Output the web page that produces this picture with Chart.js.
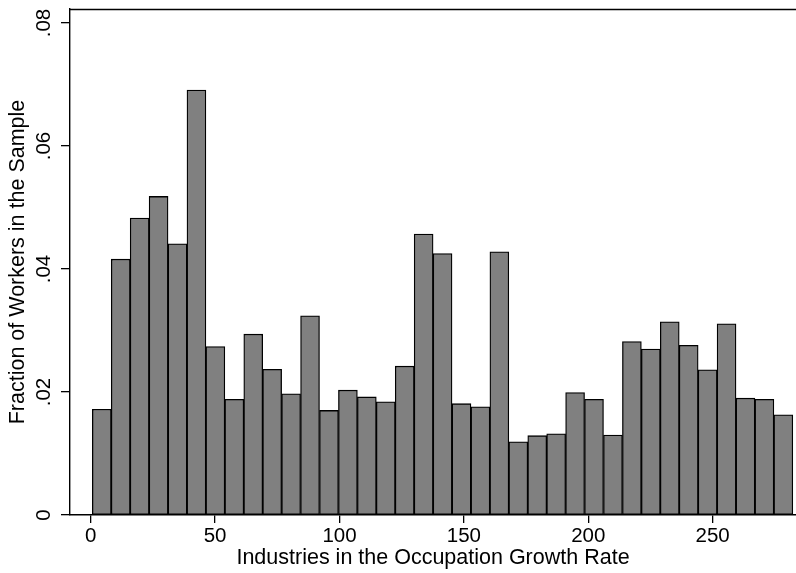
<!DOCTYPE html>
<html><head><meta charset="utf-8">
<script src="https://cdn.jsdelivr.net/npm/chart.js@4/dist/chart.umd.min.js"></script>
<style>html,body{margin:0;padding:0;background:#fff;}#wrap{width:796px;height:573px;position:relative;}</style>
</head><body><div id="wrap"><canvas id="c" width="796" height="573" style="width:796px;height:573px"></canvas></div>
<script>
// Histogram bins (industry rank in occupation growth rate)
const binStart = 0.65;
const binWidth = 7.61;
const fractions = [0.0172,0.0416,0.0483,0.0518,0.0441,0.0691,0.0274,0.0188,0.0294,0.0237,0.0197,0.0324,0.0170,0.0203,0.0192,0.0184,0.0242,0.0457,0.0425,0.0181,0.0176,0.0428,0.0119,0.0129,0.0132,0.0199,0.0188,0.0130,0.0282,0.0270,0.0314,0.0276,0.0236,0.0311,0.0190,0.0188,0.0163];
const xTicks = [0,50,100,150,200,250];
const yTicks = [0,0.02,0.04,0.06,0.08];
const yTickLabels = ['0','.02','.04','.06','.08'];
const xTitle = 'Industries in the Occupation Growth Rate';
const yTitle = 'Fraction of Workers in the Sample';

const points = fractions.map((v,i)=>({x: binStart + (i+0.5)*binWidth, y: v}));

const frame = {
  id:'frame',
  afterDraw(chart){
    const {ctx, chartArea:a} = chart;
    ctx.save();
    ctx.strokeStyle='#000'; ctx.lineWidth=1.4;
    ctx.beginPath(); ctx.moveTo(a.left, a.top+0.5); ctx.lineTo(a.right, a.top+0.5); ctx.stroke();
    ctx.restore();
  }
};

const FONT = "'Liberation Sans', Arial, sans-serif";

new Chart(document.getElementById('c'), {
  type:'bar',
  data:{ datasets:[{
    data: points,
    backgroundColor:'#808080',
    borderColor:'#000',
    borderWidth:1.3,
    borderSkipped:false,
    barPercentage:1,
    categoryPercentage:1
  }]},
  options:{
    responsive:false, animation:false, devicePixelRatio:1,
    layout:{padding:{top:9,right:0,left:0,bottom:0}},
    plugins:{legend:{display:false}, tooltip:{enabled:false}},
    scales:{
      x:{
        type:'linear', min:-8.32, max:283.5, offset:false,
        grid:{display:true, offset:false, drawOnChartArea:false, drawTicks:true, tickLength:8, color:'#000', lineWidth:1.3},
        border:{display:true, color:'#000', width:1.4},
        afterBuildTicks(s){ s.ticks = xTicks.map(v=>({value:v})); },
        afterFit(s){ s.height = 58; s.paddingLeft=0; s.paddingRight=0; },
        ticks:{ color:'#000', font:{family:FONT, size:20.5}, padding:1, maxRotation:0, minRotation:0, autoSkip:false,
          callback:(v)=>String(v) },
        title:{display:true, text:xTitle, color:'#000', font:{family:FONT, size:21.5, lineHeight:1}, padding:{top:0,bottom:4.5}}
      },
      y:{
        type:'linear', min:0, max:0.08228,
        grid:{display:true, drawOnChartArea:false, drawTicks:true, tickLength:9, color:'#000', lineWidth:1.3},
        border:{display:true, color:'#000', width:1.4},
        afterBuildTicks(s){ s.ticks = yTicks.map(v=>({value:v})); },
        afterFit(s){ s.width = 70; s.paddingTop=0; s.paddingBottom=0; },
        ticks:{ color:'#000', font:{family:FONT, size:20.5}, padding:2, minRotation:90, maxRotation:90, crossAlign:'center', autoSkip:false,
          callback:(v,i)=>yTickLabels[i] },
        title:{display:true, text:yTitle, color:'#000', font:{family:FONT, size:21.5, lineHeight:1}, padding:{top:7.5,bottom:0}}
      }
    }
  },
  plugins:[frame]
});
</script></body></html>
